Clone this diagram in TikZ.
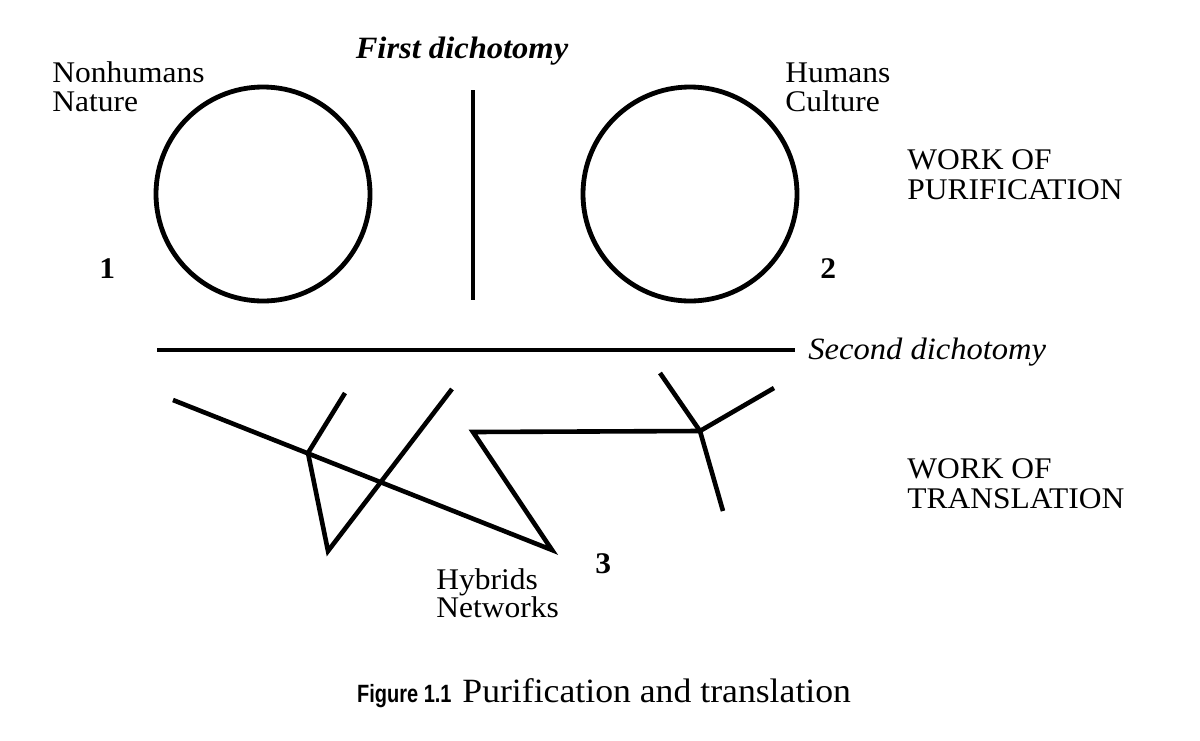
\documentclass[tikz,border=0pt]{standalone}
\usepackage{fontspec}
\setmainfont{Liberation Serif}[FakeStretch=1.05]
\newfontfamily\capsans{Liberation Sans}[FakeStretch=0.8]
\begin{document}
\begin{tikzpicture}[x=0.5pt,y=-0.5pt,
  lbl/.style={inner sep=0pt,anchor=base west,font=\fontsize{15}{18}\selectfont},
  num/.style={inner sep=0pt,anchor=base west,font=\fontsize{15}{18}\selectfont\bfseries},
  stroke/.style={line width=2.3pt,line join=miter,line cap=butt},
  ring/.style={draw,circle,line width=2.4pt,minimum size=107pt,inner sep=0pt}]
\useasboundingbox (0,0) rectangle (1200,740);
% circles
\node[ring] (c1) at (263,194) {};
\node[ring] (c2) at (690,194) {};
% dichotomy lines
\coordinate (v1) at (473,90);
\coordinate (v2) at (473,300);
\draw[stroke] (v1) -- (v2);
\coordinate (h1) at (157,350);
\coordinate (h2) at (795,350);
\draw[stroke] (h1) -- (h2);
% network
\coordinate (a1) at (173,400);
\coordinate (a2) at (552,550);
\coordinate (j1) at (308,453);
\coordinate (b1) at (345,393);
\coordinate (b2) at (328,551);
\coordinate (b3) at (452,389);
\coordinate (n1) at (473,432);
\coordinate (j2) at (700,431);
\coordinate (d1) at (660,373);
\coordinate (d2) at (774,388);
\coordinate (d3) at (723,511);
\draw[stroke] (a1) -- (a2) -- (n1) -- (j2);
\draw[stroke] (b1) -- (j1) -- (b2) -- (b3);
\draw[stroke] (d1) -- (j2) -- (d2);
\draw[stroke] (j2) -- (d3);
% texts
\node[lbl,anchor=base,font=\fontsize{15.5}{18}\selectfont\bfseries\itshape] (t1) at (462,58) {First dichotomy};
\node[lbl] (nh) at (52,82) {Nonhumans};
\node[lbl] (na) at (52,111) {Nature};
\node[lbl] (hu) at (785,82) {Humans};
\node[lbl] (cu) at (785,111) {Culture};
\node[num] (n1l) at (99,278) {1};
\node[num] (n2l) at (820,278) {2};
\node[num] (n3l) at (595,573) {3};
\node[lbl] (wp1) at (907,169) {WORK OF};
\node[lbl] (wp2) at (907,199) {PURIFICATION};
\node[lbl,font=\fontsize{15.5}{18}\selectfont\itshape] (t2) at (808,359) {Second dichotomy};
\node[lbl] (wt1) at (907,478) {WORK OF};
\node[lbl] (wt2) at (907,508) {TRANSLATION};
\node[lbl] (hy) at (436,589) {Hybrids};
\node[lbl] (ne) at (436,617) {Networks};
\node[inner sep=0pt,anchor=base east,font=\capsans\bfseries\fontsize{12.5}{14}\selectfont] (fig) at (452,702) {Figure 1.1};
\node[inner sep=0pt,anchor=base west,font=\fontsize{17}{20}\selectfont] (cap) at (462,702) {Purification and translation};
\end{tikzpicture}
\end{document}
